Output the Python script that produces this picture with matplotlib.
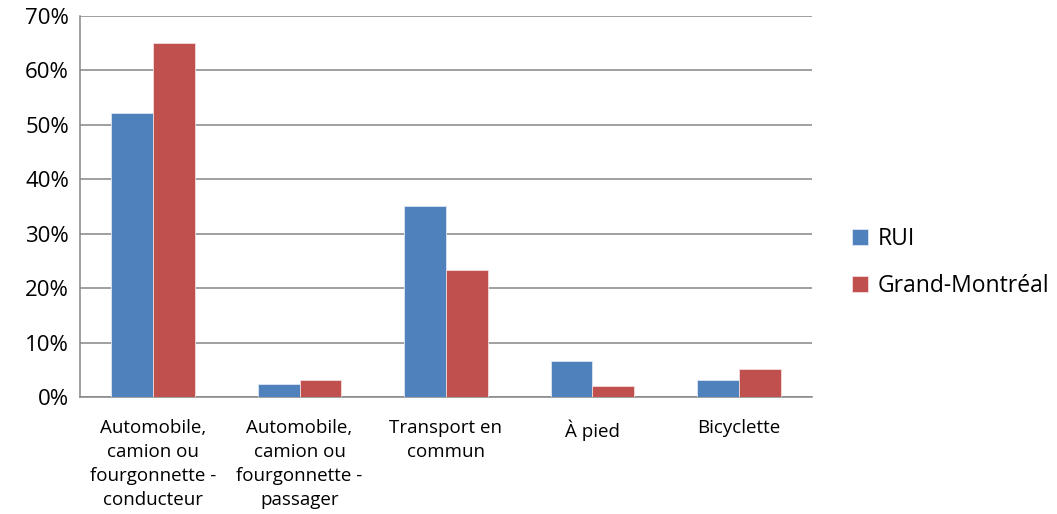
import numpy as np
import matplotlib.pyplot as plt
from matplotlib.ticker import PercentFormatter

plt.rcParams['font.family'] = ['Open Sans', 'DejaVu Sans']

# données
categories = [
    "Automobile,\ncamion ou\nfourgonnette -\nconducteur",
    "Automobile,\ncamion ou\nfourgonnette -\npassager",
    "Transport en\ncommun",
    "À pied",
    "Bicyclette",
]
rui = [52.2, 2.3, 35.1, 6.6, 3.2]
grand_mtl = [65.0, 3.2, 23.4, 2.0, 5.2]
series_names = ["RUI", "Grand-Montréal"]
yticks = [0, 10, 20, 30, 40, 50, 60, 70]

fig = plt.figure(figsize=(10.57, 5.14), dpi=100)
ax = fig.add_axes([80 / 1057, 117 / 514, 732 / 1057, 381 / 514])

x = np.arange(len(categories))
w = 1 / 3.5
ax.bar(x - w / 2, rui, w, color='#4F81BD', edgecolor='#DCE6F2', linewidth=0.6,
       label=series_names[0], zorder=3)
ax.bar(x + w / 2, grand_mtl, w, color='#C0504D', edgecolor='#F2DCDB', linewidth=0.6,
       label=series_names[1], zorder=3)

ax.set_xlim(-0.5, len(categories) - 0.5)
ax.set_ylim(0, 70)
ax.set_yticks(yticks)
ax.yaxis.set_major_formatter(PercentFormatter(decimals=0))
ax.grid(axis='y', color='#868686', linewidth=1.1, zorder=0)

for s in ['top', 'right']:
    ax.spines[s].set_visible(False)
for s in ['left', 'bottom']:
    ax.spines[s].set_color('#868686')
    ax.spines[s].set_linewidth(1.1)

ax.tick_params(axis='y', length=0, labelsize=16, pad=8)
ax.tick_params(axis='x', length=0, labelsize=13.5, pad=16)
ax.set_xticks(x)
ax.set_xticklabels(categories, linespacing=1.43)

fig.legend(loc='upper left', bbox_to_anchor=(843 / 1057, 1 - 218 / 514),
           frameon=False, fontsize=16.5, handlelength=0.7, handleheight=0.7,
           handletextpad=0.4, labelspacing=1.0, borderaxespad=0)

fig.savefig('out.png', dpi=100)
